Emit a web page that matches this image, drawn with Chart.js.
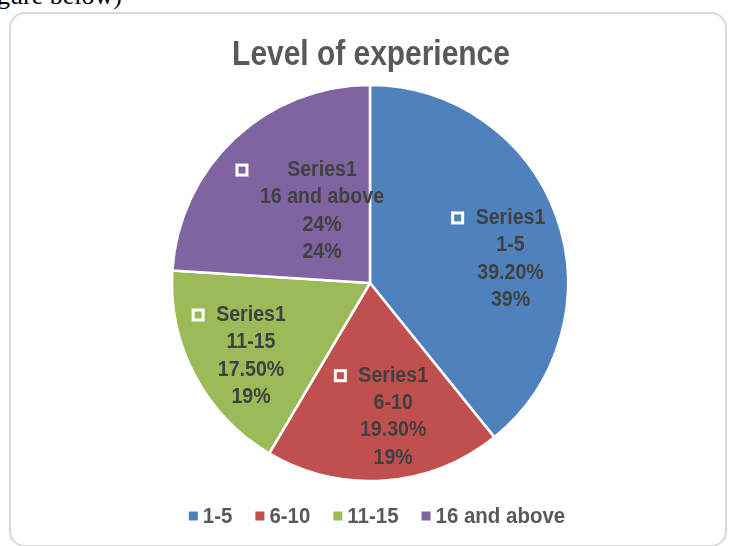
<!DOCTYPE html>
<html>
<head>
<meta charset="utf-8">
<script src="https://cdn.jsdelivr.net/npm/chart.js@4.4.1/dist/chart.umd.min.js"></script>
<style>
  html, body { margin: 0; padding: 0; background: #fff; width: 729px; height: 546px; overflow: hidden; }
  #doc { position: absolute; left: -3px; top: -17px; font: 26px "Liberation Serif", "Times New Roman", serif; color: #000; white-space: nowrap; line-height: 26px; }
  #frame { position: absolute; left: 9px; top: 12px; width: 714px; height: 531px; border: 2px solid #d9d9d9; border-radius: 16px; }
  #c { position: absolute; left: 0; top: 0; }
</style>
</head>
<body>
<div id="doc">gure below)</div>
<div id="frame"></div>
<canvas id="c" width="729" height="546"></canvas>
<script>
const titleText = "Level of experience";
const seriesName = "Series1";
const categories = ["1-5", "6-10", "11-15", "16 and above"];
const values = [39.2, 19.3, 17.5, 24];
const valueLabels = ["39.20%", "19.30%", "17.50%", "24%"];
const percentLabels = ["39%", "19%", "19%", "24%"];
const colors = ["#4F81BD", "#C0504D", "#9BBB59", "#8064A2"];

const FONT = '"Liberation Sans", Arial, sans-serif';

function narrowText(ctx, text, x, y, sx) {
  ctx.save();
  ctx.translate(x, y);
  ctx.scale(sx, 1);
  ctx.fillText(text, 0, 0);
  ctx.restore();
}

const labelPlugin = {
  id: 'excelLabels',
  afterDatasetsDraw(chart, args, opts) {
    const ctx = chart.ctx;
    const meta = chart.getDatasetMeta(0);
    const sx = opts.squeeze;
    ctx.save();
    ctx.font = 'bold ' + opts.fontSize + 'px ' + FONT;
    ctx.textAlign = 'center';
    ctx.textBaseline = 'middle';
    meta.data.forEach((arc, i) => {
      const p = arc.getProps(['x', 'y', 'startAngle', 'endAngle', 'outerRadius'], true);
      const mid = (p.startAngle + p.endAngle) / 2 + opts.angleShift[i] * Math.PI / 180;
      const d = p.outerRadius * opts.radial[i];
      const cx = p.x + Math.cos(mid) * d;
      const cy = p.y + Math.sin(mid) * d;
      const lines = [seriesName, categories[i], valueLabels[i], percentLabels[i]];
      const lh = opts.lineHeight;
      const y0 = cy - lh * (lines.length - 1) / 2;
      let maxW = 0;
      lines.forEach(t => { maxW = Math.max(maxW, ctx.measureText(t).width * sx); });
      ctx.fillStyle = '#404040';
      lines.forEach((t, k) => narrowText(ctx, t, cx, y0 + k * lh, sx));
      const s = 10;
      const kx = cx - maxW / 2 - 13 - s;
      const ky = y0 - s / 2;
      ctx.fillStyle = colors[i];
      ctx.fillRect(kx, ky, s, s);
      ctx.strokeStyle = '#ffffff';
      ctx.lineWidth = 3;
      ctx.strokeRect(kx, ky, s, s);
    });
    ctx.restore();
  }
};

const titleLegendPlugin = {
  id: 'titleLegend',
  afterDraw(chart, args, opts) {
    const ctx = chart.ctx;
    ctx.save();
    ctx.font = 'bold ' + opts.titleSize + 'px ' + FONT;
    ctx.fillStyle = '#595959';
    ctx.textAlign = 'center';
    ctx.textBaseline = 'alphabetic';
    narrowText(ctx, titleText, opts.titleX, opts.titleBaseline, opts.titleSqueeze);
    ctx.font = 'bold ' + opts.legendSize + 'px ' + FONT;
    ctx.textAlign = 'left';
    ctx.textBaseline = 'middle';
    const sx = opts.legendSqueeze;
    const box = 9, gapIn = 5, gapOut = 23;
    let total = 0;
    const widths = categories.map(c => ctx.measureText(c).width * sx);
    widths.forEach((w, i) => { total += box + gapIn + w + (i < widths.length - 1 ? gapOut : 0); });
    let x = opts.legendCenter - total / 2;
    const y = opts.legendY;
    categories.forEach((c, i) => {
      ctx.fillStyle = colors[i];
      ctx.fillRect(x, y - box / 2, box, box);
      x += box + gapIn;
      ctx.fillStyle = '#595959';
      narrowText(ctx, c, x, y + 1, sx);
      x += widths[i] + gapOut;
    });
    ctx.restore();
  }
};

new Chart(document.getElementById('c'), {
  type: 'pie',
  data: {
    labels: categories,
    datasets: [{
      label: seriesName,
      data: values,
      backgroundColor: colors,
      borderColor: '#ffffff',
      borderWidth: 2.5
    }]
  },
  options: {
    responsive: false,
    animation: false,
    radius: 198,
    layout: { padding: { left: 172, right: 161, top: 84, bottom: 64 } },
    plugins: {
      legend: { display: false },
      title: { display: false },
      tooltip: { enabled: false },
      excelLabels: {
        fontSize: 22,
        squeeze: 0.89,
        lineHeight: 27.3,
        radial: [0.72, 0.685, 0.705, 0.437],
        angleShift: [9.7, -5.7, -3.6, 9.5]
      },
      titleLegend: {
        titleSize: 35,
        titleSqueeze: 0.855,
        titleX: 371,
        titleBaseline: 65,
        legendSize: 22,
        legendSqueeze: 0.93,
        legendCenter: 377,
        legendY: 516
      }
    }
  },
  plugins: [labelPlugin, titleLegendPlugin]
});
</script>
</body>
</html>
